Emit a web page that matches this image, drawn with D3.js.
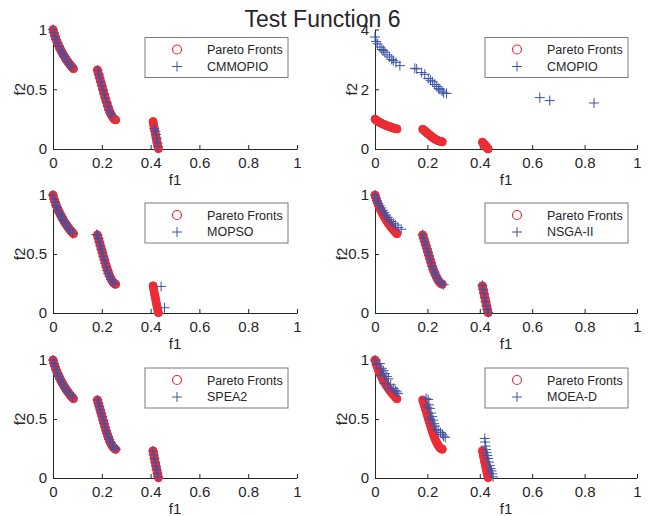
<!DOCTYPE html>
<html>
<head>
<meta charset="utf-8">
<script src="https://cdn.jsdelivr.net/npm/d3@7"></script>
<style>
body { margin: 0; background: #fff; }
svg { display: block; font-family: "Liberation Sans", Arial, sans-serif; }
</style>
</head>
<body>
<svg id="chart" width="650" height="516"></svg>
<script>
// true pareto front, [f1, f2]
const paretoFront = [
  [0.000,1.000],[0.004,0.970],[0.008,0.945],[0.012,0.922],[0.016,0.900],[0.020,0.880],
  [0.024,0.862],[0.028,0.845],[0.032,0.828],[0.036,0.812],[0.040,0.797],[0.044,0.783],
  [0.048,0.769],[0.052,0.756],[0.056,0.744],[0.060,0.732],[0.064,0.721],[0.068,0.710],
  [0.072,0.700],[0.076,0.690],[0.080,0.680],[0.084,0.671],
  [0.182,0.662],[0.185,0.640],[0.188,0.618],[0.191,0.596],[0.194,0.574],[0.197,0.552],
  [0.200,0.530],[0.203,0.508],[0.206,0.486],[0.209,0.464],[0.212,0.442],[0.215,0.421],
  [0.218,0.400],[0.221,0.380],[0.224,0.361],[0.227,0.343],[0.230,0.326],[0.234,0.306],
  [0.238,0.289],[0.242,0.274],[0.246,0.262],[0.250,0.252],[0.254,0.246],[0.257,0.243],
  [0.410,0.230],[0.412,0.208],[0.414,0.186],[0.416,0.164],[0.418,0.143],[0.420,0.122],
  [0.422,0.101],[0.424,0.080],[0.426,0.060],[0.428,0.040],[0.430,0.020],[0.432,0.002]
];

const cmmopio = [
  [0.000,1.000],[0.003,0.975],[0.008,0.940],[0.012,0.915],[0.018,0.890],[0.024,0.860],
  [0.030,0.830],[0.036,0.810],[0.042,0.790],[0.048,0.770],[0.055,0.745],[0.062,0.725],
  [0.070,0.705],[0.078,0.685],
  [0.183,0.660],[0.188,0.625],[0.192,0.595],[0.196,0.560],[0.200,0.530],[0.205,0.495],
  [0.210,0.460],[0.215,0.425],[0.220,0.390],[0.225,0.355],[0.230,0.325],[0.236,0.300],
  [0.243,0.275],
  [0.415,0.170],[0.420,0.150],[0.423,0.120],[0.425,0.090],[0.428,0.050],[0.430,0.020]
];

const cmopio = [
  [0.000,3.750],[0.004,3.600],[0.010,3.520],[0.019,3.410],[0.026,3.330],[0.032,3.300],
  [0.038,3.240],[0.046,3.150],[0.055,3.080],[0.064,3.000],[0.070,2.960],[0.080,2.900],
  [0.095,2.790],[0.152,2.700],[0.159,2.680],[0.178,2.560],[0.190,2.500],[0.203,2.360],
  [0.212,2.300],[0.220,2.250],[0.228,2.160],[0.236,2.090],[0.243,2.020],[0.248,2.000],
  [0.256,1.940],[0.262,1.880],[0.273,1.860],
  [0.629,1.720],[0.667,1.620],[0.836,1.540]
];

const mopso = [
  [0.000,1.000],[0.004,0.965],[0.008,0.940],[0.012,0.910],[0.016,0.895],[0.020,0.875],
  [0.025,0.850],[0.030,0.835],[0.035,0.815],[0.040,0.790],[0.046,0.775],[0.052,0.755],
  [0.058,0.735],[0.065,0.715],[0.072,0.700],[0.080,0.675],
  [0.178,0.665],[0.183,0.660],[0.187,0.630],[0.190,0.600],[0.194,0.570],[0.198,0.540],
  [0.202,0.510],[0.206,0.480],[0.210,0.450],[0.214,0.420],[0.218,0.390],[0.222,0.360],
  [0.226,0.335],[0.232,0.310],[0.238,0.285],[0.245,0.265],[0.252,0.248],
  [0.443,0.225],[0.457,0.045]
];

const nsga2 = [
  [0.000,1.000],[0.004,0.975],[0.008,0.950],[0.013,0.930],[0.018,0.910],[0.024,0.890],
  [0.030,0.870],[0.036,0.850],[0.042,0.830],[0.048,0.810],[0.055,0.790],[0.062,0.775],
  [0.070,0.760],[0.078,0.745],[0.088,0.725],[0.100,0.710],
  [0.182,0.665],[0.186,0.635],[0.190,0.605],[0.194,0.575],[0.198,0.545],[0.202,0.515],
  [0.206,0.485],[0.210,0.455],[0.214,0.425],[0.218,0.395],[0.222,0.370],[0.227,0.345],
  [0.232,0.320],[0.238,0.295],[0.245,0.270],[0.252,0.255],[0.262,0.240],
  [0.410,0.235],[0.413,0.200],[0.416,0.165],[0.419,0.130],[0.422,0.095],[0.425,0.060],
  [0.428,0.030],[0.432,0.005]
];

const spea2 = [
  [0.000,1.000],[0.004,0.970],[0.008,0.945],[0.013,0.915],[0.018,0.890],[0.024,0.862],
  [0.030,0.836],[0.036,0.812],[0.043,0.788],[0.050,0.762],[0.057,0.740],[0.064,0.720],
  [0.072,0.700],[0.080,0.680],
  [0.182,0.662],[0.186,0.634],[0.190,0.606],[0.194,0.578],[0.198,0.550],[0.202,0.520],
  [0.206,0.490],[0.210,0.460],[0.214,0.430],[0.218,0.400],[0.222,0.375],[0.226,0.350],
  [0.230,0.328],[0.236,0.300],[0.243,0.275],[0.250,0.255],[0.258,0.243],
  [0.410,0.230],[0.413,0.195],[0.416,0.165],[0.419,0.130],[0.422,0.100],[0.425,0.070],
  [0.428,0.040],[0.431,0.010]
];

const moead = [
  [0.000,1.000],[0.006,0.960],[0.019,0.970],[0.026,0.930],[0.032,0.910],[0.038,0.885],
  [0.045,0.860],[0.051,0.840],[0.020,0.870],[0.035,0.800],[0.060,0.790],[0.070,0.760],
  [0.078,0.740],[0.083,0.730],[0.088,0.715],[0.050,0.760],
  [0.195,0.675],[0.203,0.665],[0.206,0.620],[0.210,0.590],[0.214,0.550],[0.218,0.520],
  [0.222,0.490],[0.226,0.460],[0.229,0.440],[0.234,0.410],[0.241,0.400],[0.250,0.385],
  [0.257,0.370],[0.262,0.355],[0.268,0.345],[0.200,0.600],[0.210,0.500],
  [0.419,0.335],[0.420,0.305],[0.422,0.270],[0.424,0.240],[0.426,0.215],[0.429,0.190],
  [0.432,0.165],[0.435,0.135],[0.438,0.105],[0.441,0.080],[0.445,0.060],[0.448,0.035],
  [0.451,0.010]
];

const algorithmNames = ["CMMOPIO", "CMOPIO", "MOPSO", "NSGA-II", "SPEA2", "MOEA-D"];
const algorithmPoints = [cmmopio, cmopio, mopso, nsga2, spea2, moead];
const yMaxima = [1, 4, 1, 1, 1, 1];
const xTickValues = [0, 0.2, 0.4, 0.6, 0.8, 1];
const yTickValues = [[0, 0.5, 1], [0, 2, 4], [0, 0.5, 1], [0, 0.5, 1], [0, 0.5, 1], [0, 0.5, 1]];
const frontLabel = "Pareto Fronts";
const chartTitle = "Test Function 6";

const RED = "#ec2c36";
const BLUE = "#3b54a6";
const INK = "#262626";
const COLS = [[53, 297], [375, 637]];
const ROWS = [[29.5, 149], [195, 313], [360, 478]];

const svg = d3.select("#chart");

svg.append("text")
  .attr("x", 322.5).attr("y", 27)
  .attr("text-anchor", "middle")
  .attr("font-size", 23)
  .attr("fill", INK)
  .text(chartTitle);

const plusPath = "M-5,0H5M0,-5V5";

algorithmNames.forEach((name, i) => {
  const [left, right] = COLS[i % 2];
  const [top, bottom] = ROWS[Math.floor(i / 2)];
  const x = d3.scaleLinear().domain([0, 1]).range([left, right]);
  const y = d3.scaleLinear().domain([0, yMaxima[i]]).range([bottom, top]);
  const g = svg.append("g");

  const xAxis = g.append("g")
    .attr("transform", `translate(0,${bottom})`)
    .call(d3.axisBottom(x).tickValues(xTickValues).tickFormat(d => String(d))
      .tickSizeInner(-4).tickSizeOuter(0).tickPadding(8));
  const yAxis = g.append("g")
    .attr("transform", `translate(${left},0)`)
    .call(d3.axisLeft(y).tickValues(yTickValues[i]).tickFormat(d => String(d))
      .tickSizeInner(-4).tickSizeOuter(0).tickPadding(6));
  [xAxis, yAxis].forEach(a => {
    a.attr("font-family", null).attr("font-size", 15);
    a.selectAll("path, line").attr("stroke", INK);
    a.selectAll("text").attr("fill", INK);
  });

  // y label sits further out when tick labels are wider
  const wide = yTickValues[i].some(v => !Number.isInteger(v));
  g.append("text")
    .attr("x", (left + right) / 2).attr("y", bottom + 36)
    .attr("text-anchor", "middle").attr("font-size", 15).attr("fill", INK)
    .text("f1");
  g.append("text")
    .attr("transform", `translate(${left - (wide ? 28 : 18)},${(top + bottom) / 2}) rotate(-90)`)
    .attr("text-anchor", "middle").attr("font-size", 15).attr("fill", INK)
    .text("f2");

  g.selectAll(".front")
    .data(paretoFront)
    .enter()
    .append("circle")
    .classed("front", true)
    .attr("cx", d => x(d[0]))
    .attr("cy", d => y(d[1]))
    .attr("r", 4)
    .attr("fill", RED)
    .attr("stroke", RED)
    .attr("stroke-width", 1);

  g.selectAll(".alg")
    .data(algorithmPoints[i])
    .enter()
    .append("path")
    .classed("alg", true)
    .attr("d", plusPath)
    .attr("transform", d => `translate(${x(d[0])},${y(d[1])})`)
    .attr("stroke", BLUE)
    .attr("stroke-width", 1)
    .attr("fill", "none");

  // legend
  const lx = right - 9 - 143;
  const ly = top + 8;
  const legend = g.append("g").attr("transform", `translate(${lx},${ly})`);
  legend.append("rect")
    .attr("width", 143).attr("height", 40)
    .attr("fill", "#fff").attr("stroke", "#7a7a7a").attr("stroke-width", 1);
  legend.append("circle")
    .attr("cx", 32).attr("cy", 12).attr("r", 4.5)
    .attr("fill", "none").attr("stroke", RED).attr("stroke-width", 1.2);
  legend.append("path")
    .attr("d", plusPath).attr("transform", "translate(32,29)")
    .attr("stroke", BLUE).attr("stroke-width", 1);
  legend.append("text")
    .attr("x", 62).attr("y", 16.5).attr("font-size", 12.5).attr("fill", INK)
    .text(frontLabel);
  legend.append("text")
    .attr("x", 62).attr("y", 33).attr("font-size", 12.5).attr("fill", INK)
    .text(name);
});
</script>
</body>
</html>
